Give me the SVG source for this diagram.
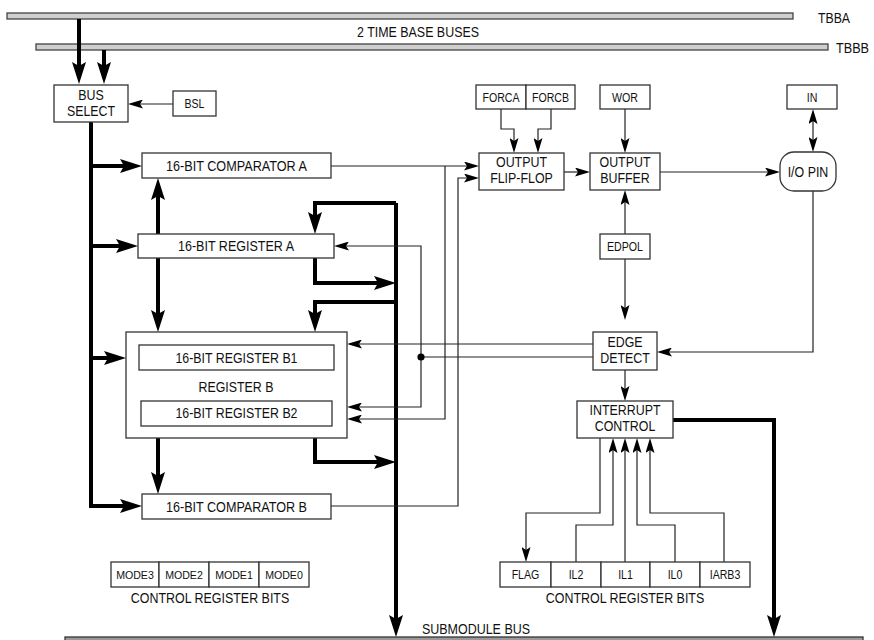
<svg xmlns="http://www.w3.org/2000/svg" width="874" height="640" viewBox="0 0 874 640">
<style>
text{font-family:'Liberation Sans',Arial,sans-serif;fill:#111;text-anchor:middle}
.lg{font-size:14.5px}
.sm{font-size:12.5px}
.xs{font-size:11.5px}
.st{text-anchor:start}
.box{fill:#fff;stroke:#333;stroke-width:1.3}
.bar{fill:#cfcfcf;stroke:#444;stroke-width:1.3}
.thick{fill:none;stroke:#000;stroke-width:4;marker-end:url(#ah)}
.thin{fill:none;stroke:#222;stroke-width:1.2;marker-end:url(#at)}
.thinn{fill:none;stroke:#222;stroke-width:1.2}
</style>
<defs>
<marker id="ah" markerUnits="userSpaceOnUse" markerWidth="22" markerHeight="14" viewBox="0 0 22 14" refX="4" refY="7" orient="auto"><path d="M0,0 L22,7 L0,14 L4,7 Z" fill="#000"/></marker>
<marker id="at" markerUnits="userSpaceOnUse" markerWidth="15" markerHeight="9" viewBox="0 0 15 9" refX="3" refY="4.5" orient="auto"><path d="M0,0 L15,4.5 L0,9 L3,4.5 Z" fill="#000"/></marker>
<marker id="ats" markerUnits="userSpaceOnUse" markerWidth="15" markerHeight="9" viewBox="0 0 15 9" refX="3" refY="4.5" orient="auto-start-reverse"><path d="M0,0 L15,4.5 L0,9 L3,4.5 Z" fill="#000"/></marker>
</defs>

<g id="buses">
<rect class="bar" x="7" y="13" width="786" height="6"/>
<rect class="bar" x="36" y="44" width="792" height="6"/>
<rect x="65" y="637" width="798" height="10" fill="#9a9a9a" stroke="#333" stroke-width="1.3"/>
<text class="lg st" x="818" y="23" textLength="32" lengthAdjust="spacingAndGlyphs">TBBA</text>
<text class="lg st" x="836" y="53" textLength="33" lengthAdjust="spacingAndGlyphs">TBBB</text>
<text class="lg" x="418" y="37" textLength="122" lengthAdjust="spacingAndGlyphs">2 TIME BASE BUSES</text>
<text class="lg" x="476" y="634" textLength="108" lengthAdjust="spacingAndGlyphs">SUBMODULE BUS</text>
</g>

<g id="connectors">
<path class="thick" d="M79,19 V66"/>
<path class="thick" d="M104,50 V66"/>
<path class="thick" d="M91,122 V506 H124"/>
<path class="thick" d="M91,166 H124"/>
<path class="thick" d="M91,246 H120"/>
<path class="thick" d="M91,358 H108"/>
<path class="thick" d="M158,234 V196"/>
<path class="thick" d="M158,258 V314"/>
<path class="thick" d="M158,370 V383"/>
<path class="thick" d="M158,438 V476"/>
<path class="thick" d="M396,203 V619"/>
<path class="thick" d="M396,203 H315 V216"/>
<path class="thick" d="M315,258 V283 H378"/>
<path class="thick" d="M396,302 H315 V314"/>
<path class="thick" d="M315,438 V462 H378"/>
<path class="thick" d="M673,420 H774 V619"/>

<path class="thin" d="M173,104 H140"/>
<path class="thin" d="M331,166 H467"/>
<path class="thin" d="M445,166 V419 H359"/>
<path class="thin" d="M331,506 H458 V178 H467"/>
<path class="thin" d="M593,344 H359"/>
<path class="thinn" d="M593,357 H421"/>
<path class="thin" d="M421,357 V246 H346"/>
<path class="thin" d="M421,357 V407 H359"/>
<circle cx="421" cy="357" r="3.6" fill="#000"/>
<path class="thin" d="M501,109 V129 H514 V141"/>
<path class="thin" d="M551,109 V129 H538 V141"/>
<path class="thin" d="M564,172 H578"/>
<path class="thin" d="M625,109 V141"/>
<path class="thin" d="M625,234 V202"/>
<path class="thin" d="M625,259 V308"/>
<path class="thin" d="M660,172 H768"/>
<path class="thin" d="M813,121 V140" marker-start="url(#ats)"/>
<path class="thin" d="M813,191 V352 H669"/>
<path class="thin" d="M625,370 V389"/>
<path class="thin" d="M600,438 V513 H526 V550"/>
<path class="thin" d="M576,562 V525 H613 V450"/>
<path class="thin" d="M625,562 V450"/>
<path class="thin" d="M675,562 V525 H637 V450"/>
<path class="thin" d="M724,562 V513 H650 V450"/>
</g>

<g id="bus-select"><rect class="box" x="54" y="85" width="74" height="37"/><text class="lg" x="91" y="100" textLength="25.5" lengthAdjust="spacingAndGlyphs">BUS</text><text class="lg" x="91" y="116" textLength="48" lengthAdjust="spacingAndGlyphs">SELECT</text></g>
<g id="bsl"><rect class="box" x="173" y="91" width="43" height="25"/><text class="sm" x="194.5" y="108" textLength="20" lengthAdjust="spacingAndGlyphs">BSL</text></g>
<g id="comparator-a"><rect class="box" x="142" y="153" width="189" height="25"/><text class="lg" x="236.5" y="171" textLength="141" lengthAdjust="spacingAndGlyphs">16-BIT COMPARATOR A</text></g>
<g id="register-a"><rect class="box" x="138" y="234" width="196" height="24"/><text class="lg" x="236" y="251" textLength="116" lengthAdjust="spacingAndGlyphs">16-BIT REGISTER A</text></g>
<g id="register-b"><rect class="box" x="126" y="332" width="221" height="106"/><text class="lg" x="236" y="392" textLength="75" lengthAdjust="spacingAndGlyphs">REGISTER B</text></g>
<g id="register-b1"><rect class="box" x="139" y="345" width="195" height="25"/><text class="lg" x="236.5" y="363" textLength="122" lengthAdjust="spacingAndGlyphs">16-BIT REGISTER B1</text></g>
<g id="register-b2"><rect class="box" x="141" y="401" width="191" height="25"/><text class="lg" x="236.5" y="418" textLength="122" lengthAdjust="spacingAndGlyphs">16-BIT REGISTER B2</text></g>
<g id="comparator-b"><rect class="box" x="142" y="494" width="189" height="25"/><text class="lg" x="236.5" y="512" textLength="141" lengthAdjust="spacingAndGlyphs">16-BIT COMPARATOR B</text></g>
<g id="forca"><rect class="box" x="476" y="85" width="50" height="24"/><text class="sm" x="501" y="102" textLength="37" lengthAdjust="spacingAndGlyphs">FORCA</text></g>
<g id="forcb"><rect class="box" x="526" y="85" width="49" height="24"/><text class="sm" x="550.5" y="102" textLength="37" lengthAdjust="spacingAndGlyphs">FORCB</text></g>
<g id="wor"><rect class="box" x="600" y="85" width="50" height="24"/><text class="sm" x="625" y="102" textLength="26" lengthAdjust="spacingAndGlyphs">WOR</text></g>
<g id="in"><rect class="box" x="787" y="85" width="50" height="24"/><text class="sm" x="812" y="102" textLength="10.6" lengthAdjust="spacingAndGlyphs">IN</text></g>
<g id="output-flip-flop"><rect class="box" x="479" y="153" width="85" height="37"/><text class="lg" x="521.5" y="167" textLength="51" lengthAdjust="spacingAndGlyphs">OUTPUT</text><text class="lg" x="521.5" y="183" textLength="62.7" lengthAdjust="spacingAndGlyphs">FLIP-FLOP</text></g>
<g id="output-buffer"><rect class="box" x="590" y="153" width="70" height="37"/><text class="lg" x="625" y="167" textLength="51" lengthAdjust="spacingAndGlyphs">OUTPUT</text><text class="lg" x="625" y="183" textLength="49.6" lengthAdjust="spacingAndGlyphs">BUFFER</text></g>
<g id="io-pin"><rect class="box" x="780" y="152" width="56" height="39" rx="14"/><text class="lg" x="808" y="177" textLength="40.7" lengthAdjust="spacingAndGlyphs">I/O PIN</text></g>
<g id="edpol"><rect class="box" x="600" y="234" width="50" height="25"/><text class="sm" x="625" y="251" textLength="36" lengthAdjust="spacingAndGlyphs">EDPOL</text></g>
<g id="edge-detect"><rect class="box" x="593" y="332" width="64" height="38"/><text class="lg" x="625" y="347" textLength="35" lengthAdjust="spacingAndGlyphs">EDGE</text><text class="lg" x="625" y="363" textLength="49.6" lengthAdjust="spacingAndGlyphs">DETECT</text></g>
<g id="interrupt-control"><rect class="box" x="577" y="401" width="96" height="37"/><text class="lg" x="625" y="415" textLength="71" lengthAdjust="spacingAndGlyphs">INTERRUPT</text><text class="lg" x="625" y="431" textLength="60.6" lengthAdjust="spacingAndGlyphs">CONTROL</text></g>

<g id="mode-bits">
<rect class="box" x="111" y="562" width="48" height="25"/><text class="xs" x="135" y="579" textLength="37.7" lengthAdjust="spacingAndGlyphs">MODE3</text>
<rect class="box" x="159" y="562" width="50" height="25"/><text class="xs" x="184" y="579" textLength="37.7" lengthAdjust="spacingAndGlyphs">MODE2</text>
<rect class="box" x="209" y="562" width="50" height="25"/><text class="xs" x="234" y="579" textLength="37.7" lengthAdjust="spacingAndGlyphs">MODE1</text>
<rect class="box" x="259" y="562" width="50" height="25"/><text class="xs" x="284" y="579" textLength="37.7" lengthAdjust="spacingAndGlyphs">MODE0</text>
<text class="lg" x="210" y="603" textLength="158.5" lengthAdjust="spacingAndGlyphs">CONTROL REGISTER BITS</text>
</g>
<g id="interrupt-bits">
<rect class="box" x="500" y="562" width="51" height="25"/><text class="sm" x="525.5" y="579" textLength="27.7" lengthAdjust="spacingAndGlyphs">FLAG</text>
<rect class="box" x="551" y="562" width="50" height="25"/><text class="sm" x="576" y="579" textLength="14.7" lengthAdjust="spacingAndGlyphs">IL2</text>
<rect class="box" x="601" y="562" width="49" height="25"/><text class="sm" x="625.5" y="579" textLength="14.7" lengthAdjust="spacingAndGlyphs">IL1</text>
<rect class="box" x="650" y="562" width="50" height="25"/><text class="sm" x="675" y="579" textLength="14.7" lengthAdjust="spacingAndGlyphs">IL0</text>
<rect class="box" x="700" y="562" width="50" height="25"/><text class="sm" x="725" y="579" textLength="30.6" lengthAdjust="spacingAndGlyphs">IARB3</text>
<text class="lg" x="625" y="603" textLength="158.5" lengthAdjust="spacingAndGlyphs">CONTROL REGISTER BITS</text>
</g>
</svg>
